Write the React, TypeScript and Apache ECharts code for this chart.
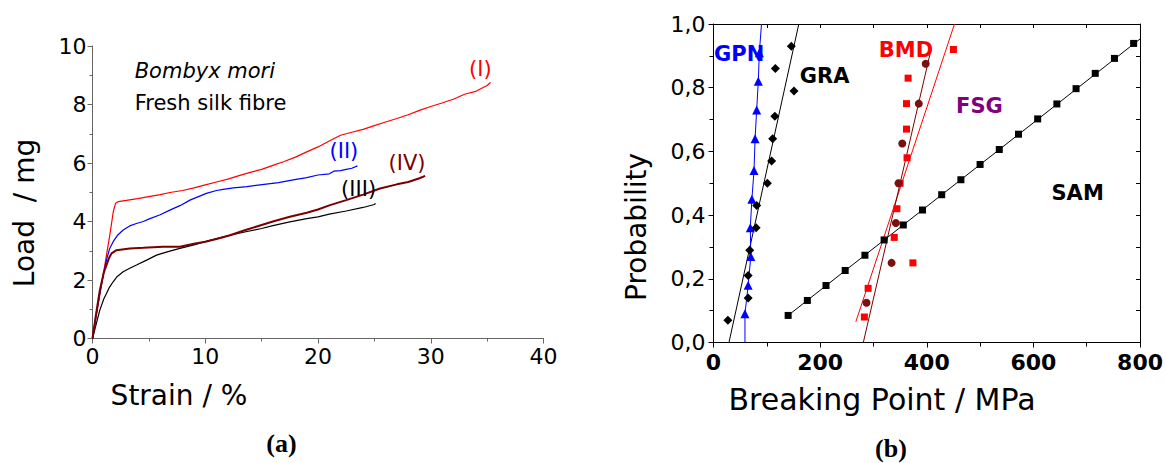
import React, { useEffect, useRef } from "react";
import * as echarts from "echarts";

// ---------- Panel (a): load / strain curves ----------
const curveI: number[][] = [
  [0, 0], [0.5, 1.15], [1.0, 2.3], [1.5, 3.45], [1.85, 4.35], [2.05, 4.62], [2.3, 4.68],
  [3, 4.72], [4, 4.78], [5, 4.85], [6, 4.92], [7, 5.0], [8, 5.06], [9, 5.15], [10, 5.25],
  [11, 5.35], [12, 5.45], [13, 5.57], [14, 5.68], [15, 5.78], [16, 5.92], [17, 6.05],
  [18, 6.2], [19, 6.38], [20, 6.55], [21, 6.75], [22, 6.95], [23, 7.05], [24, 7.15],
  [25, 7.28], [26, 7.4], [27, 7.52], [28, 7.65], [29, 7.8], [30, 7.93], [31, 8.05],
  [32, 8.18], [33, 8.35], [34, 8.45], [35, 8.65], [35.3, 8.75],
];
const curveII: number[][] = [
  [0, 0], [0.3, 0.75], [0.65, 1.54], [1.0, 2.25], [1.24, 2.68], [1.5, 3.05], [1.83, 3.31],
  [2.2, 3.52], [2.72, 3.71], [3.3, 3.85], [3.9, 3.93], [4.5, 4.0], [5.1, 4.1], [6, 4.23],
  [6.86, 4.39], [7.8, 4.55], [8.64, 4.73], [9.4, 4.85], [10.1, 4.96], [11, 5.06],
  [11.6, 5.1], [12.5, 5.15], [13.7, 5.19], [15.4, 5.28], [16.5, 5.33], [17.8, 5.42],
  [19, 5.5], [20, 5.59], [21, 5.63], [21.4, 5.72], [22, 5.74], [22.5, 5.78], [23, 5.82],
  [23.5, 5.9],
];
const curveIII: number[][] = [
  [0, 0], [0.3, 0.45], [0.65, 0.97], [1.0, 1.35], [1.24, 1.54], [1.5, 1.75], [1.83, 1.94],
  [2.2, 2.12], [2.72, 2.28], [3.3, 2.4], [3.9, 2.51], [4.8, 2.68], [5.68, 2.85], [6.7, 2.97],
  [7.75, 3.08], [9, 3.2], [10, 3.31], [11, 3.42], [12.2, 3.53], [13.5, 3.64], [15, 3.76],
  [16, 3.86], [17.5, 3.99], [19, 4.1], [20, 4.16], [21, 4.25], [22.5, 4.36], [24, 4.48],
  [25, 4.58], [25.1, 4.62],
];
const curveIV: number[][] = [
  [0, 0], [0.3, 0.8], [0.65, 1.65], [1.0, 2.25], [1.24, 2.51], [1.5, 2.78], [1.69, 2.91],
  [2.13, 3.02], [3.3, 3.08], [4.5, 3.1], [6.27, 3.14], [7.75, 3.14], [9, 3.24], [10, 3.31],
  [11, 3.4], [12.2, 3.53], [13.5, 3.7], [15, 3.88], [16, 4.0], [17.5, 4.16], [19, 4.3],
  [20, 4.41], [21, 4.55], [22.5, 4.73], [24, 4.92], [25.5, 5.13], [27, 5.27], [28, 5.35],
  [29, 5.48], [29.5, 5.56],
];
const curveNames = ["(I)", "(II)", "(III)", "(IV)"];
const curveColors = ["#ff0000", "#0000ff", "#000000", "#7a0000"];
const curveLabelX = [34.4, 22.3, 23.6, 27.9];
const curveLabelY = [9.2, 6.4, 5.1, 6.0];

// ---------- Panel (b): breaking point probability ----------
const gpnX = [59, 65, 70, 69, 72, 76, 78, 81, 84, 86];
const gpnY = [0.09, 0.18, 0.27, 0.36, 0.45, 0.54, 0.64, 0.73, 0.82, 0.91];
const gpnFit = [[59, 0], [90, 1.0]];

const graX = [27, 65, 65, 68, 80, 81, 101, 109, 111, 115, 151, 116, 146];
const graY = [0.07, 0.14, 0.21, 0.29, 0.36, 0.43, 0.5, 0.57, 0.64, 0.71, 0.79, 0.86, 0.93];
const graFit = [[29, 0], [160, 1.0]];

const bmdX = [283, 290, 374, 339, 344, 350, 363, 362, 362, 365, 450];
const bmdY = [0.08, 0.17, 0.25, 0.33, 0.42, 0.5, 0.58, 0.67, 0.75, 0.83, 0.92];
const bmdFit = [[267, 0.065], [452, 1.0]];

const fsgX = [287, 334, 342, 347, 354, 385, 398];
const fsgY = [0.125, 0.25, 0.375, 0.5, 0.625, 0.75, 0.875];
const fsgFit = [[281, 0], [408, 0.92]];

const samX = [140, 176, 211, 247, 284, 320, 356, 392, 428, 464, 500, 536, 572, 608, 644, 680, 716, 752, 788];
const samY = [0.085, 0.132, 0.179, 0.226, 0.274, 0.322, 0.369, 0.416, 0.464, 0.511, 0.559, 0.606, 0.654, 0.702, 0.749, 0.797, 0.845, 0.892, 0.939];
const samFit = [[140, 0.085], [800, 0.953]];

const groupNames = ["GPN", "GRA", "BMD", "FSG", "SAM"];
const groupLabelColors = ["#0000ff", "#000000", "#ff0000", "#800080", "#000000"];
const groupLabelX = [0, 161, 309, 454, 633];
const groupLabelY = [0.905, 0.837, 0.918, 0.742, 0.468];

const FONT = "DejaVu Sans";

const zip = (xs: number[], ys: number[]) => xs.map((x, i) => [x, ys[i]]);

export default function App() {
  const ref = useRef<HTMLDivElement>(null);

  useEffect(() => {
    if (!ref.current) return;
    const chart = echarts.init(ref.current, null, { renderer: "svg" });

    const leftAxisColor = "#666666";
    const leftLine = { onZero: false, lineStyle: { color: leftAxisColor, width: 1 } };
    const rightLine = { onZero: false, lineStyle: { color: "#000", width: 1 } };

    const curveSeries = [curveI, curveII, curveIII, curveIV].map((d, i) => ({
      type: "line",
      xAxisIndex: 0,
      yAxisIndex: 0,
      data: d,
      showSymbol: false,
      symbol: "none",
      smooth: false,
      lineStyle: { color: curveColors[i], width: i === 3 ? 2 : 1.2 },
      z: i === 3 ? 3 : 2,
      silent: true,
    }));

    const textPoint = (
      x: number, y: number, text: string, color: string,
      opts: Record<string, unknown> = {}
    ) => ({
      value: [x, y],
      label: {
        show: true,
        formatter: text,
        color,
        opacity: 1,
        fontFamily: FONT,
        ...opts,
      },
    });

    const hiddenItem = { color: "rgba(0,0,0,0)", opacity: 1 };

    const leftNotes = {
      type: "scatter",
      xAxisIndex: 0,
      yAxisIndex: 0,
      symbolSize: 1,
      itemStyle: hiddenItem,
      silent: true,
      z: 5,
      data: [
        ...curveNames.map((n, i) =>
          textPoint(curveLabelX[i], curveLabelY[i], n, curveColors[i], {
            position: "inside", fontSize: 21,
          })
        ),
        textPoint(3.7, 9.13, "Bombyx mori", "#000", {
          position: "right", distance: 0, fontSize: 21, fontStyle: "italic",
        }),
        textPoint(3.7, 8.04, "Fresh silk fibre", "#000", {
          position: "right", distance: 0, fontSize: 21,
        }),
      ],
    };

    const fitLine = (d: number[][], color: string) => ({
      type: "line",
      xAxisIndex: 1,
      yAxisIndex: 1,
      data: d,
      symbol: "none",
      lineStyle: { color, width: 1 },
      silent: true,
      z: 2,
    });

    const marks = (d: number[][], symbol: string, size: number, color: string) => ({
      type: "scatter",
      xAxisIndex: 1,
      yAxisIndex: 1,
      data: d,
      symbol,
      symbolSize: size,
      itemStyle: { color, opacity: 1 },
      silent: true,
      z: 4,
    });

    const gpnLine = {
      type: "line",
      xAxisIndex: 1,
      yAxisIndex: 1,
      data: [
        { value: gpnFit[0], symbol: "none" },
        ...zip(gpnX, gpnY).map((p) => ({ value: p })),
        { value: gpnFit[1], symbol: "none" },
      ],
      symbol: "triangle",
      symbolSize: 9,
      showAllSymbol: true,
      itemStyle: { color: "#0000ff", opacity: 1 },
      lineStyle: { color: "#0000ff", width: 1 },
      silent: true,
      z: 4,
    };

    const rightNotes = {
      type: "scatter",
      xAxisIndex: 1,
      yAxisIndex: 1,
      symbolSize: 1,
      itemStyle: hiddenItem,
      silent: true,
      z: 6,
      data: groupNames.map((n, i) =>
        textPoint(groupLabelX[i], groupLabelY[i], n, groupLabelColors[i], {
          position: "right", distance: 0, fontSize: 21, fontWeight: "bold",
        })
      ),
    };

    const centred = { textAlign: "center", textVerticalAlign: "middle", align: "center", verticalAlign: "middle" };

    const option = {
      animation: false,
      textStyle: { fontFamily: FONT },
      grid: [
        { left: 92.5, top: 46, width: 451, height: 292.5 },
        { left: 713.5, top: 24, width: 430, height: 318.5 },
      ],
      xAxis: [
        {
          gridIndex: 0, type: "value", min: 0, max: 40, interval: 10,
          axisLine: leftLine,
          axisTick: { length: 5, lineStyle: { color: leftAxisColor } },
          minorTick: { show: true, splitNumber: 2, length: 3, lineStyle: { color: leftAxisColor } },
          splitLine: { show: false },
          axisLabel: { color: "#000", fontSize: 22, fontFamily: FONT, margin: 7 },
        },
        {
          gridIndex: 1, type: "value", min: 0, max: 800, interval: 200,
          axisLine: rightLine,
          axisTick: { length: 5, lineStyle: { color: "#000" } },
          minorTick: { show: true, splitNumber: 2, length: 4, lineStyle: { color: "#000" } },
          splitLine: { show: false },
          axisLabel: { color: "#000", fontSize: 22, fontWeight: "bold", fontFamily: FONT, margin: 9 },
        },
        {
          gridIndex: 1, type: "value", position: "top", min: 0, max: 800, interval: 100,
          axisLine: rightLine,
          axisTick: { inside: true, length: 4, lineStyle: { color: "#000" } },
          splitLine: { show: false },
          axisLabel: { show: false },
        },
      ],
      yAxis: [
        {
          gridIndex: 0, type: "value", min: 0, max: 10, interval: 2,
          axisLine: leftLine,
          axisTick: { length: 5, lineStyle: { color: leftAxisColor } },
          minorTick: { show: true, splitNumber: 2, length: 3, lineStyle: { color: leftAxisColor } },
          splitLine: { show: false },
          axisLabel: { color: "#000", fontSize: 22, fontFamily: FONT, margin: 6 },
        },
        {
          gridIndex: 1, type: "value", min: 0, max: 1, interval: 0.2,
          axisLine: rightLine,
          axisTick: { length: 5, lineStyle: { color: "#000" } },
          minorTick: { show: true, splitNumber: 2, length: 4, lineStyle: { color: "#000" } },
          splitLine: { show: false },
          axisLabel: {
            color: "#000", fontSize: 22, fontFamily: FONT, margin: 8,
            formatter: (v: number) => v.toFixed(1).replace(".", ","),
          },
        },
        {
          gridIndex: 1, type: "value", position: "right", min: 0, max: 1, interval: 0.1,
          axisLine: rightLine,
          axisTick: { inside: true, length: 4, lineStyle: { color: "#000" } },
          splitLine: { show: false },
          axisLabel: { show: false },
        },
      ],
      series: [
        ...curveSeries,
        leftNotes,
        fitLine(graFit, "#000000"),
        fitLine(bmdFit, "#ff0000"),
        fitLine(fsgFit, "#7a0000"),
        fitLine(samFit, "#000000"),
        gpnLine,
        marks(zip(graX, graY), "diamond", 9, "#000000"),
        marks(zip(bmdX, bmdY), "rect", 7, "#ff0000"),
        marks(zip(fsgX, fsgY), "circle", 8, "#7a1010"),
        marks(zip(samX, samY), "rect", 7, "#000000"),
        rightNotes,
      ],
      graphic: [
        {
          type: "text", x: 24, y: 213, rotation: Math.PI / 2,
          style: { text: "Load  / mg", font: `28px "${FONT}"`, fill: "#000", ...centred },
        },
        {
          type: "text", x: 179, y: 395,
          style: { text: "Strain / %", font: `28px "${FONT}"`, fill: "#000", ...centred },
        },
        {
          type: "text", x: 636, y: 227, rotation: Math.PI / 2,
          style: { text: "Probability", font: `28px "${FONT}"`, fill: "#000", ...centred },
        },
        {
          type: "text", x: 882, y: 399,
          style: { text: "Breaking Point / MPa", font: `30px "${FONT}"`, fill: "#000", ...centred },
        },
        {
          type: "text", x: 281.5, y: 443,
          style: { text: "(a)", font: `bold 26px "Liberation Serif"`, fill: "#000", ...centred },
        },
        {
          type: "text", x: 891, y: 448,
          style: { text: "(b)", font: `bold 26px "Liberation Serif"`, fill: "#000", ...centred },
        },
      ],
    };

    chart.setOption(option as any);
    return () => chart.dispose();
  }, []);

  return (
    <div
      ref={ref}
      style={{ position: "fixed", left: 0, top: 0, width: 1166, height: 463, background: "#fff" }}
    />
  );
}
